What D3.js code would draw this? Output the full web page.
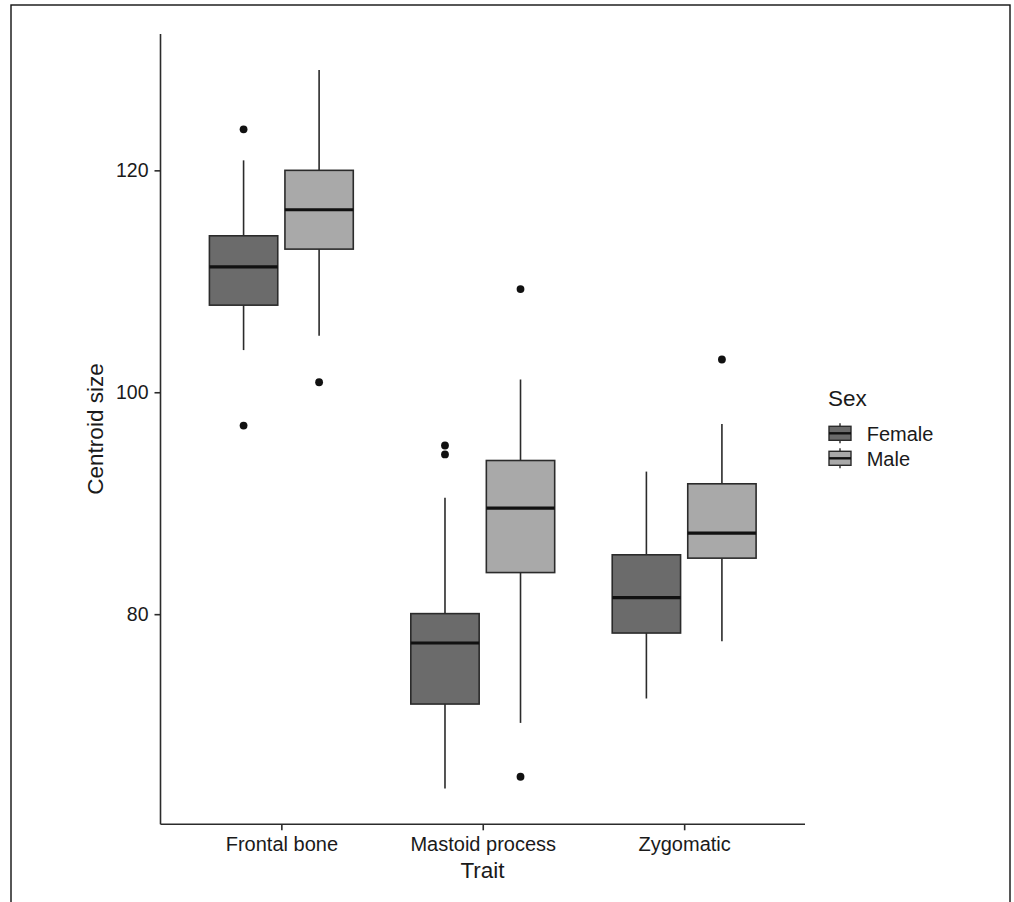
<!DOCTYPE html>
<html>
<head>
<meta charset="utf-8">
<script src="https://cdn.jsdelivr.net/npm/d3@7"></script>
<style>
    body { margin: 0; background: #fff; }
    text { font-family: "Liberation Sans", Arial, Helvetica, sans-serif; fill: #1a1a1a; }
</style>
</head>
<body>
<div id="chart_div"></div>
<script>
// values, one entry per box (trait x sex)
const traits = ["Frontal bone", "Mastoid process", "Zygomatic"];
const sexes = ["Female", "Male"];
const boxTrait = ["Frontal bone", "Frontal bone", "Mastoid process", "Mastoid process", "Zygomatic", "Zygomatic"];
const boxSex = ["Female", "Male", "Female", "Male", "Female", "Male"];
const lower = [103.8, 105.1, 64.3, 70.2, 72.4, 77.55];
const q1 = [107.85, 112.9, 71.9, 83.75, 78.3, 85.05];
const median = [111.3, 116.45, 77.4, 89.55, 81.5, 87.3];
const q3 = [114.1, 120.0, 80.05, 93.85, 85.35, 91.75];
const upper = [120.9, 129.05, 90.5, 101.15, 92.85, 97.15];
const outliers = [[123.7, 97.0], [100.9], [95.2, 94.4], [109.3, 65.35], [], [102.95]];
const yTicks = [80, 100, 120];

const width = 1014, height = 902;
const fills = { "Female": "#6b6b6b", "Male": "#a9a9a9" };
const ink = "#2b2b2b";

let svg = d3.select("#chart_div").append("svg")
    .attr("width", width)
    .attr("height", height);

// outer frame of the figure
svg.append("rect")
    .attr("x", 11).attr("y", 5)
    .attr("width", 999).attr("height", 920)
    .attr("fill", "#fff")
    .attr("stroke", "#111")
    .attr("stroke-width", 1.4);

let boxes = boxTrait.map(function (t, i) {
    return { trait: t, sex: boxSex[i], lower: lower[i], q1: q1[i], median: median[i], q3: q3[i], upper: upper[i], out: outliers[i] };
});

// y range like ggplot: data extent plus 5%
let allValues = lower.concat(upper, d3.merge(outliers));
let ext = d3.extent(allValues);
let pad = (ext[1] - ext[0]) * 0.05;
let y = d3.scaleLinear().domain([ext[0] - pad, ext[1] + pad]).range([824.3, 34]);

let x = d3.scalePoint().domain(traits).range([160.5, 805]).padding(0.6);
let step = x.step();
let dodge = d3.scaleBand().domain(sexes).range([-0.375 * step, 0.375 * step]);
let boxW = dodge.bandwidth() * 0.905;
let cx = function (d) { return x(d.trait) + dodge(d.sex) + dodge.bandwidth() / 2; };

// boxes
let g = svg.append("g").selectAll("g")
    .data(boxes)
    .enter()
    .append("g");

g.append("line")
    .attr("x1", cx).attr("x2", cx)
    .attr("y1", function (d) { return y(d.upper); })
    .attr("y2", function (d) { return y(d.q3); })
    .attr("stroke", ink).attr("stroke-width", 1.6);
g.append("line")
    .attr("x1", cx).attr("x2", cx)
    .attr("y1", function (d) { return y(d.q1); })
    .attr("y2", function (d) { return y(d.lower); })
    .attr("stroke", ink).attr("stroke-width", 1.6);
g.append("rect")
    .attr("x", function (d) { return cx(d) - boxW / 2; })
    .attr("width", boxW)
    .attr("y", function (d) { return y(d.q3); })
    .attr("height", function (d) { return y(d.q1) - y(d.q3); })
    .attr("fill", function (d) { return fills[d.sex]; })
    .attr("stroke", ink).attr("stroke-width", 1.6);
g.append("line")
    .attr("x1", function (d) { return cx(d) - boxW / 2; })
    .attr("x2", function (d) { return cx(d) + boxW / 2; })
    .attr("y1", function (d) { return y(d.median); })
    .attr("y2", function (d) { return y(d.median); })
    .attr("stroke", "#111").attr("stroke-width", 3.2);
g.selectAll("circle")
    .data(function (d) { return d.out.map(function (v) { return { v: v, x: cx(d) }; }); })
    .enter()
    .append("circle")
    .attr("cx", function (d) { return d.x; })
    .attr("cy", function (d) { return y(d.v); })
    .attr("r", 3.9)
    .attr("fill", "#111");

// axes
let yAxis = svg.append("g")
    .attr("transform", "translate(160.5,0)")
    .call(d3.axisLeft(y).tickValues(yTicks).tickSize(6).tickPadding(6).tickSizeOuter(0));
yAxis.select(".domain").attr("d", "M0," + y.range()[0] + "V" + y.range()[1]);
let xAxis = svg.append("g")
    .attr("transform", "translate(0,824.3)")
    .call(d3.axisBottom(x).tickSize(6).tickPadding(7).tickSizeOuter(0));
xAxis.select(".domain").attr("d", "M160.5,0H805");

svg.selectAll(".domain, .tick line")
    .attr("stroke", ink).attr("stroke-width", 1.6);
yAxis.selectAll(".tick text").attr("font-size", "19.5px").attr("font-family", null);
xAxis.selectAll(".tick text").attr("font-size", "20px").attr("font-family", null);

// axis titles
svg.append("text")
    .attr("x", 482.5).attr("y", 878)
    .attr("text-anchor", "middle")
    .attr("font-size", "22.5px")
    .text("Trait");
svg.append("text")
    .attr("transform", "translate(103,429) rotate(-90)")
    .attr("text-anchor", "middle")
    .attr("font-size", "22.5px")
    .text("Centroid size");

// legend
let legend = svg.append("g");
legend.append("text")
    .attr("x", 828).attr("y", 405.7)
    .attr("font-size", "22.5px")
    .text("Sex");
let key = legend.selectAll(".key")
    .data(sexes)
    .enter()
    .append("g")
    .classed("key", true)
    .attr("transform", function (d, i) { return "translate(840," + (433.3 + i * 25) + ")"; });
key.append("line")
    .attr("y1", -10).attr("y2", 10)
    .attr("stroke", ink).attr("stroke-width", 1.4);
key.append("rect")
    .attr("x", -11).attr("y", -7)
    .attr("width", 22).attr("height", 14)
    .attr("fill", function (d) { return fills[d]; })
    .attr("stroke", ink).attr("stroke-width", 1.4);
key.append("line")
    .attr("x1", -11).attr("x2", 11)
    .attr("stroke", "#111").attr("stroke-width", 2.4);
key.append("text")
    .attr("x", 26.7).attr("dy", "0.36em")
    .attr("font-size", "20px")
    .text(function (d) { return d; });
</script>
</body>
</html>
